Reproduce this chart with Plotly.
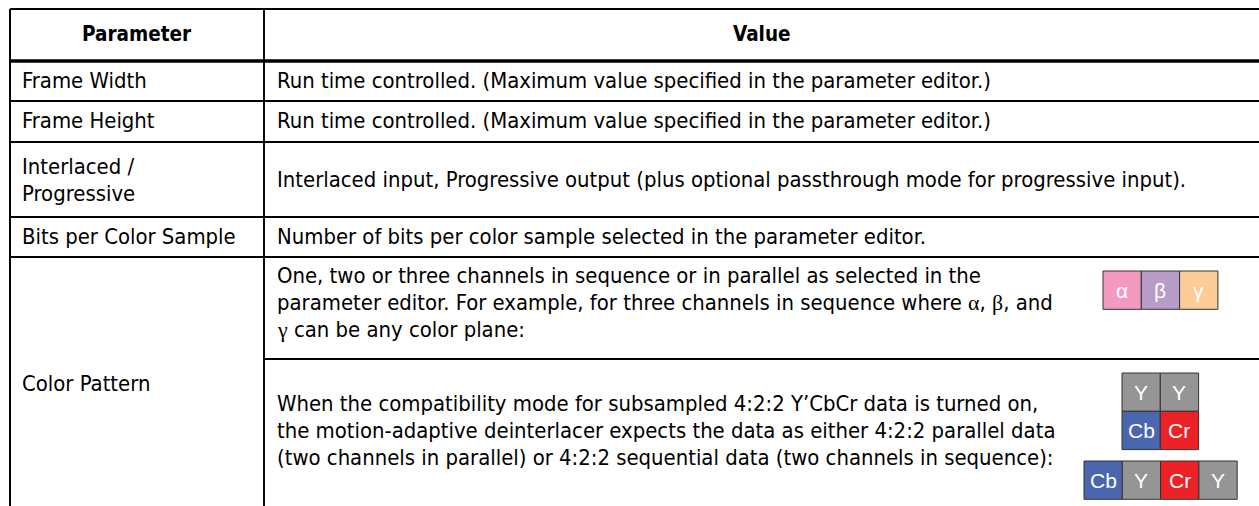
import plotly.graph_objects as go

# ---------------- data ----------------
headers = ["Parameter", "Value"]

parameters = [
    ["Frame Width"],
    ["Frame Height"],
    ["Interlaced /", "Progressive"],
    ["Bits per Color Sample"],
    ["Color Pattern"],
]

values = [
    [["Run time controlled. (Maximum value specified in the parameter editor.)"]],
    [["Run time controlled. (Maximum value specified in the parameter editor.)"]],
    [["Interlaced input, Progressive output (plus optional passthrough mode for progressive input)."]],
    [["Number of bits per color sample selected in the parameter editor."]],
    [
        ["One, two or three channels in sequence or in parallel as selected in the",
         "parameter editor. For example, for three channels in sequence where <GR>α</GR>, <GR>β</GR>, and",
         "<GR>γ</GR> can be any color plane:"],
        ["When the compatibility mode for subsampled 4:2:2 Y’CbCr data is turned on,",
         "the motion-adaptive deinterlacer expects the data as either 4:2:2 parallel data",
         "(two channels in parallel) or 4:2:2 sequential data (two channels in sequence):"],
    ],
]

seq3_labels = ["α", "β", "γ"]
seq3_colors = ["#F49AC1", "#B79BC9", "#FDCB95"]

par422_labels = [["Y", "Y"], ["Cb", "Cr"]]
par422_colors = [["#959595", "#959595"], ["#4A66AE", "#EC2227"]]

seq422_labels = ["Cb", "Y", "Cr", "Y"]
seq422_colors = ["#4A66AE", "#959595", "#EC2227", "#959595"]

# ---------------- layout config ----------------
W, H = 1259, 506
FONT = "DejaVu Sans Condensed, Liberation Sans Narrow, Arial Narrow, sans-serif"
GREEK = "Liberation Serif, DejaVu Serif, serif"
BOX_FONT = "Liberation Sans, Arial, sans-serif"
FS = 21.9
FS_HEAD = 20.5

X_LEFT, X_DIV, X_RIGHT = 10, 264, 1259
Y_TOP, Y_HEAD = 9, 61
row_edges = [61, 101, 142, 217, 257, 506]
sub_edge = 359
PAD_L, PAD_V = 20, 275
LINE_H = 27

# first-line y for parameter text and value sub-blocks
param_first_y = [80, 120, 166, 236, 383]
value_first_y = [[80], [120], [179], [236], [275, 403]]

BOX = 38.3
seq3_origin = (1103, 271)
par422_origin = (1122, 373)
seq422_origin = (1084, 461)

fig = go.Figure()
shapes = []
annotations = []


def hline(y, x0, x1, w=1.8):
    shapes.append(dict(type="line", x0=x0, x1=x1, y0=y, y1=y,
                       line=dict(color="black", width=w), layer="above"))


def vline(x, y0, y1, w=1.8):
    shapes.append(dict(type="line", x0=x, x1=x, y0=y0, y1=y1,
                       line=dict(color="black", width=w), layer="above"))


def fmt(t):
    return (t.replace("<GR>", f"<span style='font-family:{GREEK}'>")
             .replace("</GR>", "</span>"))


def text(x, y, t, bold=False, anchor="left", size=FS, color="black", family=FONT):
    annotations.append(dict(x=x, y=y, xref="x", yref="y", text=fmt(t),
                            showarrow=False, xanchor=anchor, yanchor="middle",
                            font=dict(family=family, size=size, color=color,
                                      weight="bold" if bold else "normal")))


def box(x0, y0, label, color):
    shapes.append(dict(type="rect", x0=x0, x1=x0 + BOX, y0=y0, y1=y0 + BOX,
                       fillcolor=color, line=dict(color="#333333", width=1),
                       layer="above"))
    text(x0 + BOX / 2, y0 + BOX / 2, label, anchor="center", size=21,
         color="white", family=BOX_FONT)


# grid lines
hline(Y_TOP, X_LEFT, X_RIGHT, 2)
hline(Y_HEAD, X_LEFT, X_RIGHT, 3.5)
for y in row_edges[1:-1]:
    hline(y, X_LEFT, X_RIGHT, 1.9)
hline(sub_edge, X_DIV, X_RIGHT, 1.9)
vline(X_LEFT, Y_TOP, H, 2)
vline(X_DIV, Y_TOP, H, 1.9)

# header
text((X_LEFT + X_DIV) / 2, 34, headers[0], bold=True, anchor="center", size=FS_HEAD)
text((X_DIV + X_RIGHT) / 2, 34, headers[1], bold=True, anchor="center", size=FS_HEAD)

# body text
for i, lines in enumerate(parameters):
    for j, ln in enumerate(lines):
        text(PAD_L, param_first_y[i] + j * LINE_H, ln)
for i, blocks in enumerate(values):
    for b, lines in enumerate(blocks):
        for j, ln in enumerate(lines):
            text(PAD_V, value_first_y[i][b] + j * LINE_H, ln)

# colour-plane boxes
for k, (lab, col) in enumerate(zip(seq3_labels, seq3_colors)):
    box(seq3_origin[0] + k * BOX, seq3_origin[1], lab, col)
for r in range(2):
    for c in range(2):
        box(par422_origin[0] + c * BOX, par422_origin[1] + r * BOX,
            par422_labels[r][c], par422_colors[r][c])
for k, (lab, col) in enumerate(zip(seq422_labels, seq422_colors)):
    box(seq422_origin[0] + k * BOX, seq422_origin[1], lab, col)

fig.update_layout(
    width=W, height=H,
    margin=dict(l=0, r=0, t=0, b=0),
    paper_bgcolor="white", plot_bgcolor="white",
    xaxis=dict(range=[0, W], visible=False, fixedrange=True),
    yaxis=dict(range=[H, 0], visible=False, fixedrange=True),
    shapes=shapes, annotations=annotations, showlegend=False,
)

fig.write_html(
    "out.html",
    config={"displayModeBar": False},
    post_script="document.body.style.margin='0';document.body.style.overflow='hidden';",
)
